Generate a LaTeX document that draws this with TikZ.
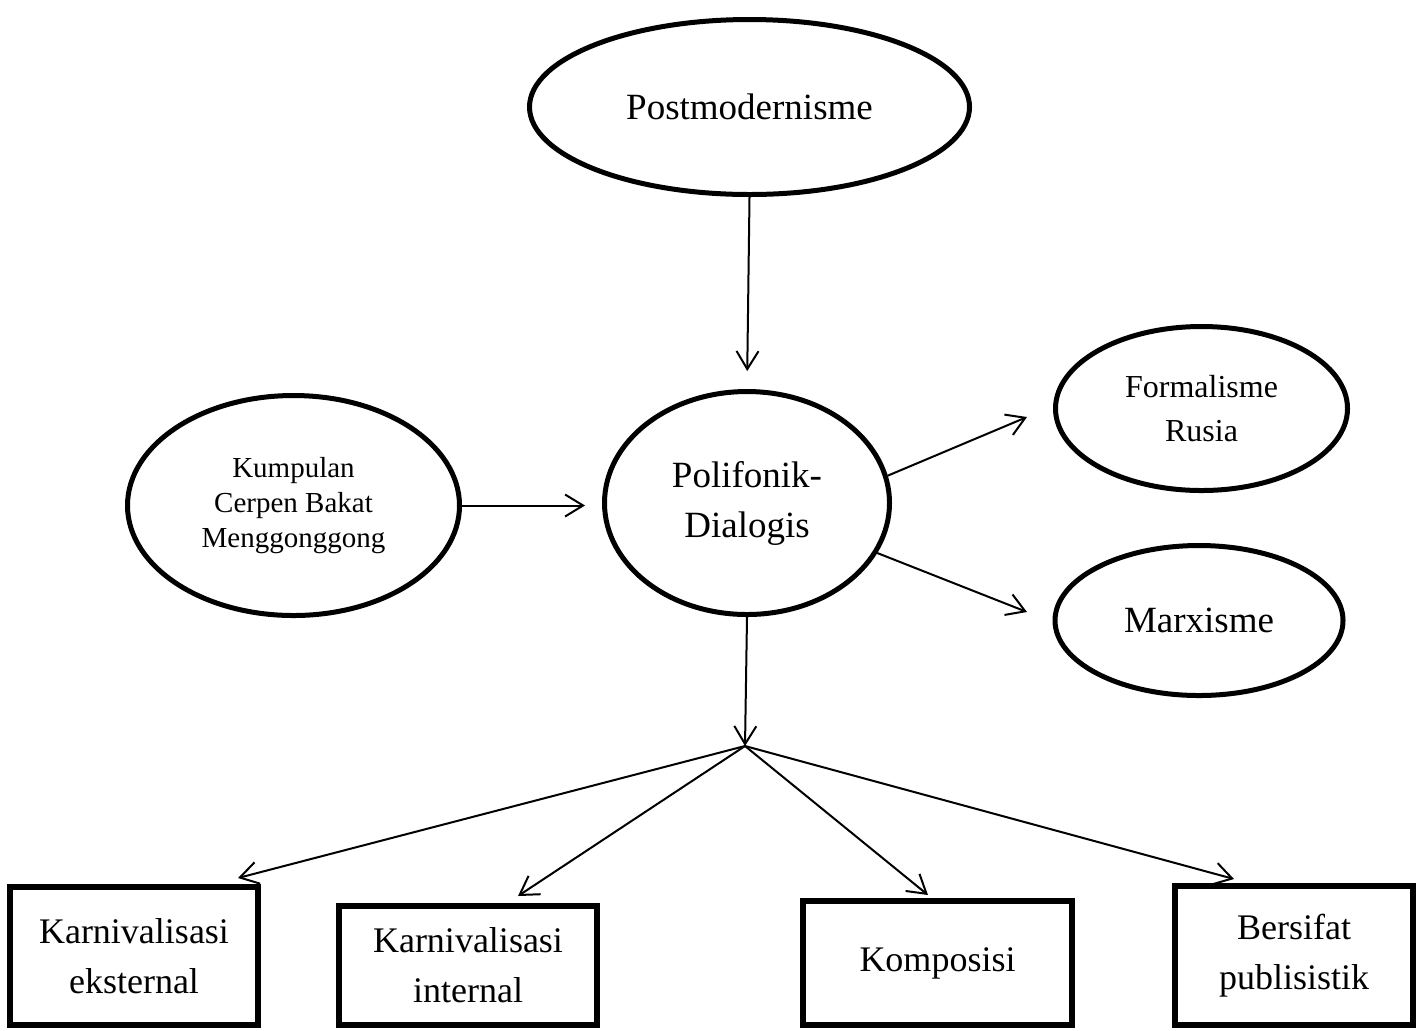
\documentclass[tikz,border=0pt]{standalone}
\usepackage{fontspec}
\setmainfont{Liberation Serif}
\usepackage{tikz}
\usetikzlibrary{shapes.geometric, arrows.meta, positioning}

\begin{document}
\begin{tikzpicture}[
    x=0.5pt, y=-0.5pt,
    idea/.style={ellipse, draw, line width=2.5pt, inner sep=0pt, align=center, font=\fontsize{18.5}{25}\selectfont},
    aspect/.style={rectangle, draw, line width=3pt, inner sep=0pt, align=center, font=\fontsize{18}{25}\selectfont},
    link/.style={-{Straight Barb[length=9pt, width=11pt]}, line width=1pt}
]
\useasboundingbox (0,0) rectangle (1427,1030);

\node[idea, minimum width=220pt, minimum height=87.5pt] (post) at (749.5,107) {Postmodernisme};
\node[idea, minimum width=142.5pt, minimum height=111.5pt] (pol) at (747,503) {Polifonik-\\Dialogis};
\node[idea, minimum width=166pt, minimum height=110pt, font=\fontsize{14.5}{17.5}\selectfont] (kump) at (293.5,505.5) {Kumpulan\\Cerpen Bakat\\Menggonggong};
\node[idea, minimum width=146pt, minimum height=82pt, font=\fontsize{16}{22}\selectfont] (form) at (1201.5,408.5) {Formalisme\\Rusia};
\node[idea, minimum width=144pt, minimum height=75pt] (marx) at (1199,620.5) {Marxisme};

\node[aspect, minimum width=124pt, minimum height=69pt] (ext) at (134,956) {Karnivalisasi\\eksternal};
\node[aspect, minimum width=129pt, minimum height=59.5pt] (int) at (468,965.5) {Karnivalisasi\\internal};
\node[aspect, minimum width=134.5pt, minimum height=62pt] (komp) at (937.5,963) {Komposisi};
\node[aspect, minimum width=119pt, minimum height=69.5pt] (bers) at (1294,955.5) {Bersifat\\publisistik};

% branch point and arrow ends
\coordinate (split) at (745,746);
\coordinate (formin) at (1027,417);
\coordinate (marxin) at (1027,612);
\coordinate (extin) at (238,878);
\coordinate (intin) at (518,896);
\coordinate (kompin) at (928,895);
\coordinate (bersin) at (1234,879);

% Main flow
\draw[link, shorten >=9pt] (post.south) -- (pol.north);
\draw[link, shorten >=8.5pt] (kump.east) -- (kump.east -| pol.west);
\draw[link] (pol.11) -- (formin);
\draw[link] (pol.-21) -- (marxin);
\draw[link] (pol.south) -- (split);

% Branches
\draw[link] (split) -- (extin);
\draw[link] (split) -- (intin);
\draw[link] (split) -- (kompin);
\draw[link] (split) -- (bersin);

\end{tikzpicture}
\end{document}
